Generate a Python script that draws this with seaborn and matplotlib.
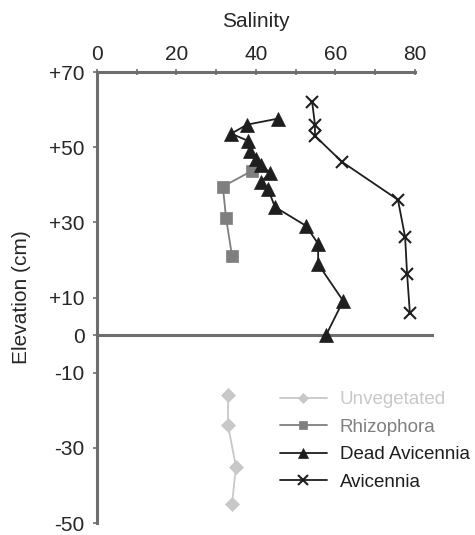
import numpy as np
import pandas as pd
import seaborn as sns
import matplotlib.pyplot as plt
from matplotlib.ticker import MultipleLocator

# Salinity profiles (elevation in cm)
unveg_sal = [33.0, 33.0, 35.0, 34.0]
unveg_elev = [-16, -24, -35, -45]

rhizo_sal = [39.0, 31.7, 32.5, 34.0]
rhizo_elev = [43.7, 39.5, 31.2, 21.1]

dead_sal = [45.6, 37.8, 33.8, 38.0, 38.5, 40.0, 41.3, 43.6, 41.3, 43.1, 44.8, 52.6, 55.7, 55.7, 62.0, 57.7]
dead_elev = [57.6, 56.0, 53.6, 51.7, 49.1, 46.9, 45.3, 43.2, 40.8, 38.9, 34.1, 29.1, 24.3, 18.9, 9.1, 0.0]

avi_sal = [54.2, 54.9, 54.9, 61.7, 75.8, 77.6, 78.1, 78.8]
avi_elev = [61.9, 56.0, 53.0, 46.1, 36.0, 26.1, 16.3, 5.9]

y_ticks = [70, 50, 30, 10, 0, -10, -30, -50]
y_labels = ['+70', '+50', '+30', '+10', '0', '-10', '-30', '-50']

sns.set_style('white')
plt.rcParams['font.family'] = ['Liberation Sans', 'DejaVu Sans']

fig = plt.figure(figsize=(4.75, 5.35), dpi=100)
ax = fig.add_axes([0.2042, 0.0224, 0.7105, 0.843])

spine_col = '#6e6e6e'

# zero line
ax.axhline(0, color=spine_col, lw=2.2, zorder=1)

series = [
    ('Unvegetated', unveg_sal, unveg_elev, '#c8c8c8', 'D', 7),
    ('Rhizophora', rhizo_sal, rhizo_elev, '#7f7f7f', 's', 8),
    ('Dead Avicennia', dead_sal, dead_elev, '#1e1e1e', '^', 10),
    ('Avicennia', avi_sal, avi_elev, '#1e1e1e', 'x', 9),
]
for name, s, e, col, mk, ms in series:
    df = pd.DataFrame({'sal': s, 'elev': e})
    sns.lineplot(data=df, x='sal', y='elev', sort=False, estimator=None,
                 color=col, marker=mk, markersize=ms, lw=1.3,
                 markeredgecolor=col, markeredgewidth=1.5 if mk == 'x' else 0.5,
                 label=name, ax=ax, zorder=3)

ax.set_xlim(0, 85)
ax.set_ylim(-50, 70)

ax.xaxis.tick_top()
ax.xaxis.set_label_position('top')
ax.set_xticks([0, 20, 40, 60, 80])
ax.xaxis.set_minor_locator(MultipleLocator(10))
ax.set_yticks(y_ticks)
ax.set_yticklabels(y_labels)

for side in ['right', 'bottom']:
    ax.spines[side].set_visible(False)
ax.spines['top'].set_bounds(0, 80)
for side in ['top', 'left']:
    ax.spines[side].set_color(spine_col)
    ax.spines[side].set_linewidth(2.2)

ax.tick_params(axis='x', which='both', direction='inout', length=4, width=1.2,
               color=spine_col, labelsize=15, pad=4, top=True, bottom=False)
ax.tick_params(axis='y', which='both', direction='out', length=3, width=1.2,
               color=spine_col, labelsize=15, pad=6, left=True)

ax.set_xlabel('Salinity', fontsize=15, labelpad=13)
ax.xaxis.label.set_x(40 / 85)
ax.set_ylabel('Elevation (cm)', fontsize=15, labelpad=13)

ax.legend(loc='upper left', bbox_to_anchor=(0.589, 0.269), bbox_transform=fig.transFigure,
          frameon=False, fontsize=13.5, labelcolor='linecolor', handlelength=2.5,
          handletextpad=0.7, labelspacing=0.55, borderpad=0, borderaxespad=0,
          markerscale=0.75)

fig.savefig('out.png', dpi=100, facecolor='white')
